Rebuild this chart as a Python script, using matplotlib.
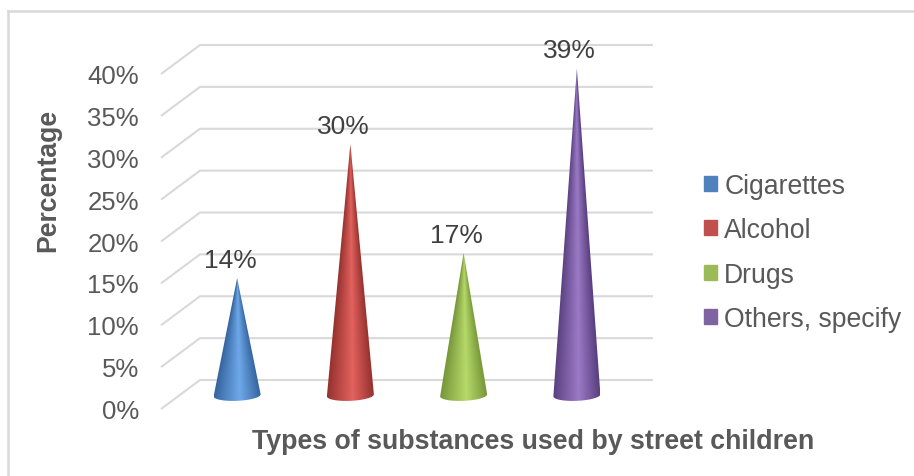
import numpy as np
import matplotlib
matplotlib.use('Agg')
import matplotlib.pyplot as plt
from matplotlib.colors import LinearSegmentedColormap
from matplotlib.patches import Patch, PathPatch
from matplotlib.path import Path

categories = ['Cigarettes', 'Alcohol', 'Drugs', 'Others, specify']
values = [14, 30, 17, 39]
yticks = [0, 5, 10, 15, 20, 25, 30, 35, 40]
dark = ['#35659f', '#96322f', '#769638', '#5a4080']
mid = ['#6fa8ea', '#e2625e', '#b6d96a', '#9b7ac6']
legend_colors = ['#4f81bd', '#c0504d', '#9bbb59', '#8064a2']

plt.rcParams['font.family'] = ['Liberation Sans', 'DejaVu Sans']
W, H = 914, 477
GRID = '#d9d9d9'
TEXT = '#595959'

fig = plt.figure(figsize=(W / 100, H / 100), dpi=100)
ax = fig.add_axes([0, 0, 1, 1])

# one x unit is a category, one y unit is a percent on the back wall
px_x = 113.25
px_y = 8.375
ax.set_xlim(-200 / px_x, (W - 200) / px_x)
ax.set_ylim((381 - H) / px_y, 381 / px_y)
ax.axis('off')

# floor depth, back wall to front edge
dx = -39 / px_x
dy = -29 / px_y

# outer frame
ax.plot([-192 / px_x, -192 / px_x], [(381 - 477) / px_y, (381 - 12) / px_y], color=GRID, lw=1.8)
ax.plot([-192 / px_x, (W - 200) / px_x], [(381 - 12) / px_y, (381 - 12) / px_y], color=GRID, lw=1.8)

for t in yticks:
    ax.plot([dx, 0, 4], [t + dy, t, t], color=GRID, lw=1.5, solid_capstyle='butt')
    ax.text(dx - 22 / px_x, t + dy - 2 / px_y, f'{t}%', ha='right', va='center', fontsize=18.5, color=TEXT)

# cones stand half way along the floor depth
half = 23.5 / px_x
ell = 5.5 / px_y
theta = np.linspace(0, np.pi, 40)
for i, v in enumerate(values):
    cx = i + 0.5 + dx / 2
    base = dy / 2 - 0.1
    xs = cx + half * np.cos(theta)
    ys = base - ell * np.sin(theta) + 0.12 * np.cos(theta)
    verts = [(cx, base + v)] + list(zip(xs, ys)) + [(cx, base + v)]
    codes = [Path.MOVETO] + [Path.LINETO] * (len(verts) - 2) + [Path.CLOSEPOLY]

    # shading wraps round the cone, so the highlight narrows toward the tip
    top = base + v
    bottom = base - ell - 0.5
    gx, gy = np.meshgrid(np.linspace(-1, 1, 120), np.linspace(top, bottom, 400))
    width = np.clip((top - gy) / v, 0.01, None)
    shade = np.clip(gx / width, -1, 1) * 0.5 + 0.5
    cmap = LinearSegmentedColormap.from_list('cone', [(0, dark[i]), (0.55, mid[i]), (1, dark[i])])
    im = ax.imshow(shade, extent=[cx - half, cx + half, bottom, top], cmap=cmap, vmin=0, vmax=1,
                   aspect='auto', zorder=3, interpolation='bilinear')
    patch = PathPatch(Path(verts, codes), fc='none', ec='none', transform=ax.transData)
    ax.add_patch(patch)
    im.set_clip_path(patch)
    ax.text(cx - 7 / px_x, base + v + 0.75, f'{v}%', ha='center', va='bottom', fontsize=19,
            color='#404040', zorder=4)

ax.set_xlim(-200 / px_x, (W - 200) / px_x)
ax.set_ylim((381 - H) / px_y, 381 / px_y)

ax.text((533 - 200) / px_x, (381 - 442.5) / px_y, 'Types of substances used by street children',
        ha='center', va='center', fontsize=19.3, fontweight='bold', color=TEXT)
ax.text((48 - 200) / px_x, (381 - 180) / px_y, 'Percentage', rotation=90, ha='center', va='center',
        fontsize=19.2, fontweight='bold', color=TEXT)

handles = [Patch(color=c, label=n) for c, n in zip(legend_colors, categories)]
leg = ax.legend(handles=handles, loc='center left', bbox_to_anchor=(704 / W, 1 - 253.5 / H),
                bbox_transform=fig.transFigure, frameon=False, fontsize=19.2, labelcolor=TEXT,
                handlelength=0.5, handleheight=0.5, handletextpad=0.26, labelspacing=0.69,
                borderpad=0, borderaxespad=0)

fig.savefig('out.png', dpi=100, facecolor='white')
